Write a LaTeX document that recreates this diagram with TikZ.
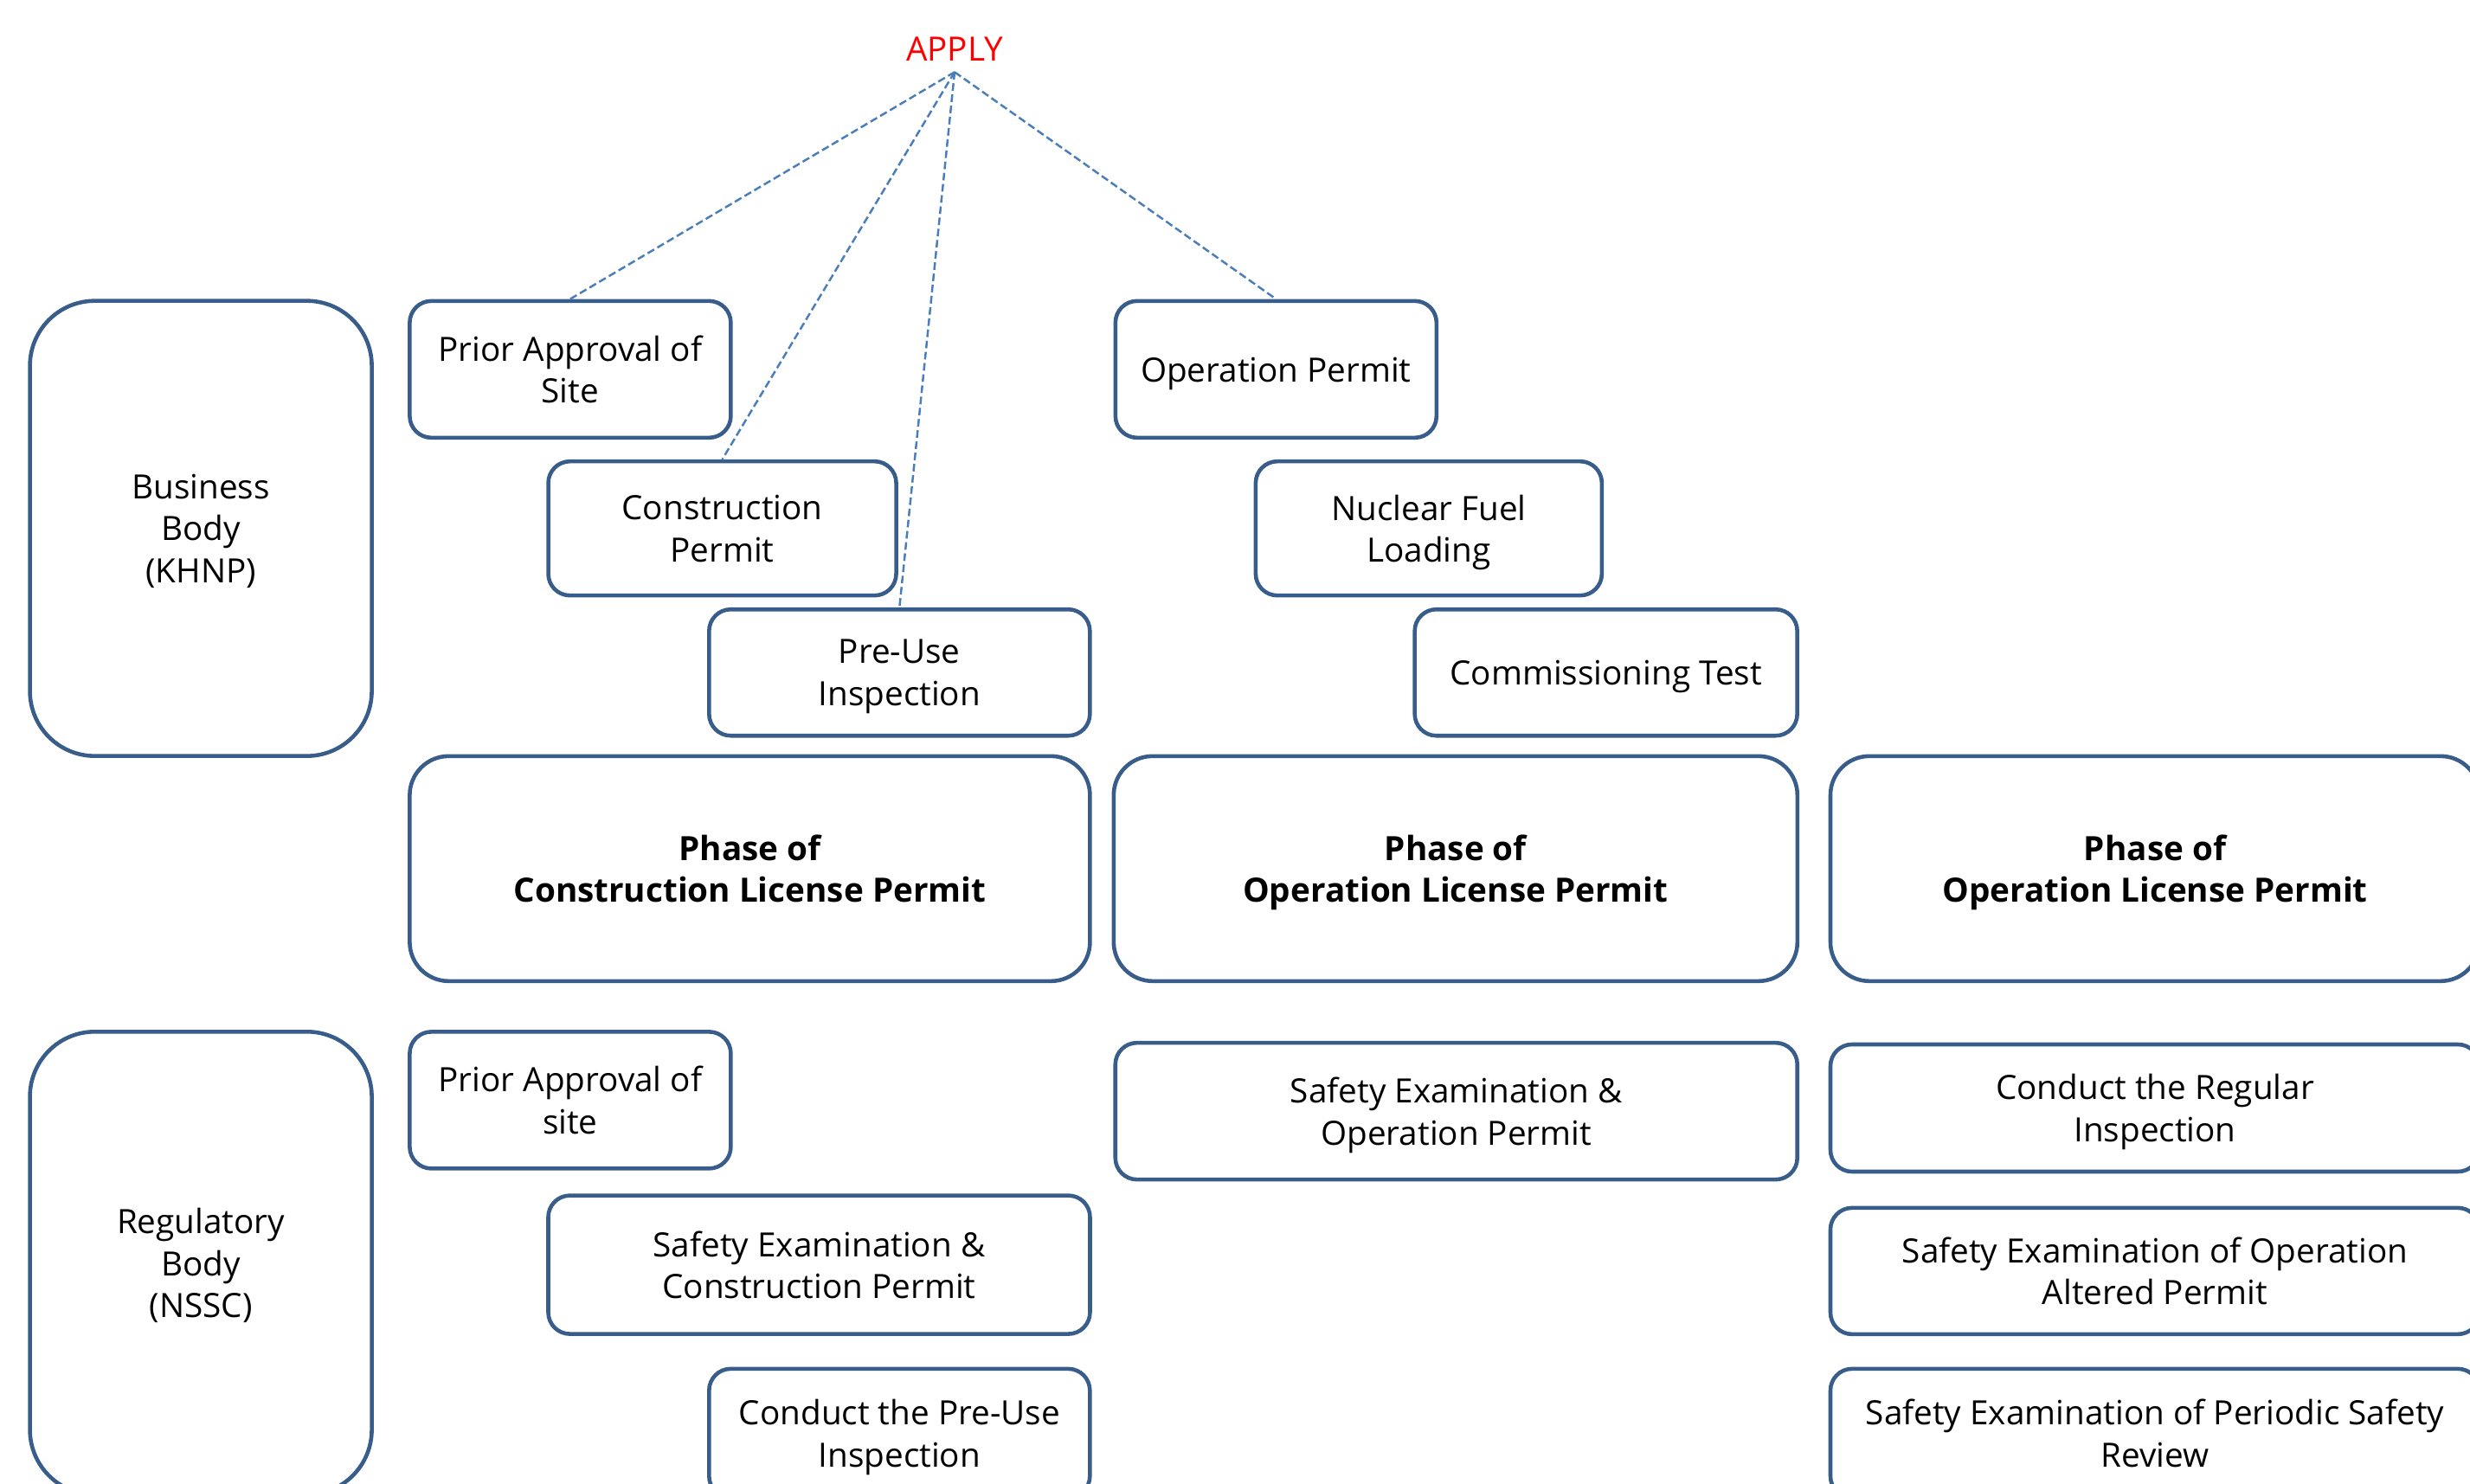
\documentclass[tikz,border=0pt]{standalone}
\usepackage{fontspec}
\setmainfont{Open Sans}
\definecolor{boxblue}{RGB}{56,93,138}
\definecolor{lineblue}{RGB}{74,126,187}

\begin{document}
\begin{tikzpicture}[x = 0.18202mm, y = -0.18202mm,
  box/.style = {draw = boxblue, line width = 1.3pt, rounded corners = 0.25cm, align = center, inner sep = 0pt, text depth = -1.6pt, font = \fontsize{11}{13.8}\selectfont},
  phase/.style = {box, rounded corners = 0.45cm, font = \fontsize{11}{13.8}\selectfont\bfseries},
  body/.style = {box, rounded corners = 0.75cm},
  link/.style = {draw = lineblue, line width = 0.7pt, dash pattern = on 2.5pt off 1.2pt}]

\useasboundingbox (0,0) rectangle (1568,942);

\node [text = red, font = \fontsize{11}{13.4}\selectfont, inner sep = 3.5pt] (apply) at (606,31) {APPLY};

\node [body, minimum width = 3.95cm, minimum height = 5.26cm] (business) at (127.5,335.5) {Business\\Body\\(KHNP)};
\node [box, minimum width = 3.71cm, minimum height = 1.58cm] (siteapply) at (362,234.5) {Prior Approval of\\Site};
\node [box, minimum width = 4.02cm, minimum height = 1.55cm] (constrapply) at (458.5,335.5) {Construction\\Permit};
\node [box, minimum width = 4.40cm, minimum height = 1.46cm] (preuseapply) at (571,427) {Pre-Use\\Inspection};
\node [box, minimum width = 3.71cm, minimum height = 1.58cm] (operapply) at (810,234.5) {Operation Permit};
\node [box, minimum width = 4.00cm, minimum height = 1.55cm] (fuel) at (907,335.5) {Nuclear Fuel\\Loading};
\node [box, minimum width = 4.42cm, minimum height = 1.46cm] (commtest) at (1019.5,427) {Commissioning Test};

\node [phase, minimum width = 7.86cm, minimum height = 2.60cm] (phaseconstr) at (476,551.5) {Phase of\\Construction License Permit};
\node [phase, minimum width = 7.90cm, minimum height = 2.60cm] (phaseoper) at (924,551.5) {Phase of\\Operation License Permit};
\node [phase, minimum width = 7.50cm, minimum height = 2.60cm] (phaseoperb) at (1368,551.5) {Phase of\\Operation License Permit};

\node [body, minimum width = 3.95cm, minimum height = 5.35cm] (regulatory) at (127.5,802) {Regulatory\\Body\\(NSSC)};
\node [box, minimum width = 3.71cm, minimum height = 1.58cm] (siteexam) at (362,698.5) {Prior Approval of\\site};
\node [box, minimum width = 6.26cm, minimum height = 1.60cm] (constrexam) at (520,803) {Safety Examination \&\\Construction Permit};
\node [box, minimum width = 4.40cm, minimum height = 1.49cm] (preuseexam) at (571,910) {Conduct the Pre-Use\\Inspection};
\node [box, minimum width = 7.88cm, minimum height = 1.58cm] (operexam) at (924.5,705.5) {Safety Examination \&\\Operation Permit};
\node [box, minimum width = 7.50cm, minimum height = 1.47cm] (regular) at (1368,703.5) {Conduct the Regular\\Inspection};
\node [box, minimum width = 7.50cm, minimum height = 1.46cm] (altered) at (1368,807) {Safety Examination of Operation\\Altered Permit};
\node [box, minimum width = 7.50cm, minimum height = 1.49cm] (psr) at (1368,910) {Safety Examination of Periodic Safety\\Review};

\draw [link] (apply.south) -- (siteapply.north);
\draw [link] (apply.south) -- (constrapply.north);
\draw [link] (apply.south) -- (preuseapply.north);
\draw [link] (apply.south) -- (operapply.north);

\end{tikzpicture}
\end{document}
